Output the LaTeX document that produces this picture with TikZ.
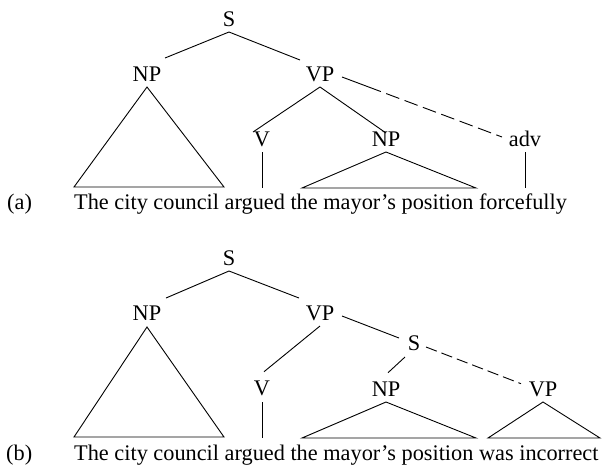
\documentclass[tikz,border=0pt]{standalone}
\usepackage{fontspec}
\setmainfont{Liberation Serif}
\usetikzlibrary{calc}
\begin{document}
\begin{tikzpicture}[x=1pt,y=-1pt,
  lab/.style={font=\fontsize{22.3}{26}\selectfont, inner sep=0pt, anchor=base},
  txt/.style={font=\fontsize{22.3}{26}\selectfont, inner sep=0pt, anchor=base west},
  edge/.style={line width=0.9pt, line join=miter},
  dasha/.style={edge, dash pattern=on 41.5pt off 5.7pt on 13.9pt off 5.7pt on 13.9pt off 5.7pt on 13.9pt off 5.7pt on 13.9pt off 5.7pt on 13.9pt off 5.7pt on 13.9pt off 5.7pt on 13.9pt off 5.7pt on 40pt},
  dashb/.style={edge, dash pattern=on 11.5pt off 5pt}]
\useasboundingbox (0,0) rectangle (607,467);

% ---------- (a) ----------
\node[lab] (Sa) at (229,26.5) {S};
\node[lab] (NPa) at (147,81) {NP};
\node[lab] (VPa) at (320,81) {VP};
\node[lab] (Va) at (262,146) {V};
\node[lab] (NPa2) at (386,146) {NP};
\node[lab] (adva) at (525,146.5) {adv};
\node[txt] (taga) at (7,209) {(a)};
\node[txt] (senta) at (74,209) {The city council argued the mayor’s position forcefully};
\coordinate (a1l) at (74,187);
\coordinate (a1r) at (224,187);
\coordinate (a2l) at (302,188);
\coordinate (a2r) at (476,188);
\coordinate (abase) at (0,188);

\draw[edge] ($(Sa.base)+(0,5.5)$) -- ($(NPa.base)+(18,-23)$);
\draw[edge] ($(Sa.base)+(0,5.5)$) -- ($(VPa.base)+(-20,-21)$);
\draw[edge] ($(NPa.base)+(0,6)$) -- (a1l) -- (a1r) -- cycle;
\draw[edge] ($(VPa.base)+(0,6)$) -- ($(Va.base)+(-9,-14)$);
\draw[edge] ($(VPa.base)+(0,6)$) -- ($(NPa2.base)+(0,-13)$);
\draw[dasha] ($(VPa.base)+(22,-4)$) -- ($(adva.base)+(-23,-9.5)$);
\draw[edge] ($(Va.base)+(0,6)$) -- (Va.base |- abase);
\draw[edge] ($(NPa2.base)+(0,6)$) -- (a2l) -- (a2r) -- cycle;
\draw[edge] ($(adva.base)+(0,5.5)$) -- (adva.base |- abase);

% ---------- (b) ----------
\node[lab] (Sb) at (229,265.7) {S};
\node[lab] (NPb) at (147,320) {NP};
\node[lab] (VPb) at (320,320) {VP};
\node[lab] (Sb2) at (414,350.5) {S};
\node[lab] (Vb) at (262,395.7) {V};
\node[lab] (NPb2) at (386,396.7) {NP};
\node[lab] (VPb2) at (543,396.7) {VP};
\node[txt] (tagb) at (6,460) {(b)};
\node[txt] (sentb) at (74,460) {The city council argued the mayor’s position was incorrect};
\coordinate (b1l) at (74,437);
\coordinate (b1r) at (224,437);
\coordinate (b2l) at (302,438);
\coordinate (b2r) at (476,438);
\coordinate (b3l) at (488,438);
\coordinate (b3r) at (600,438);
\coordinate (bbase) at (0,438);

\draw[edge] ($(Sb.base)+(0,5.3)$) -- ($(NPb.base)+(19,-22)$);
\draw[edge] ($(Sb.base)+(0,5.3)$) -- ($(VPb.base)+(-21,-22)$);
\draw[edge] ($(NPb.base)+(0,7)$) -- (b1l) -- (b1r) -- cycle;
\draw[edge] ($(VPb.base)+(0,6)$) -- ($(Vb.base)+(2,-24)$);
\draw[edge] ($(VPb.base)+(22,-4)$) -- ($(Sb2.base)+(-15,-12.5)$);
\draw[edge] ($(Sb2.base)+(-9,6.5)$) -- ($(NPb2.base)+(2,-24)$);
\draw[dashb] ($(Sb2.base)+(12,-3.5)$) -- ($(VPb2.base)+(-22,-13)$);
\draw[edge] ($(Vb.base)+(0,6.3)$) -- (Vb.base |- bbase);
\draw[edge] ($(NPb2.base)+(0,5.3)$) -- (b2l) -- (b2r) -- cycle;
\draw[edge] ($(VPb2.base)+(0,5.3)$) -- (b3l) -- (b3r) -- cycle;
\end{tikzpicture}
\end{document}
